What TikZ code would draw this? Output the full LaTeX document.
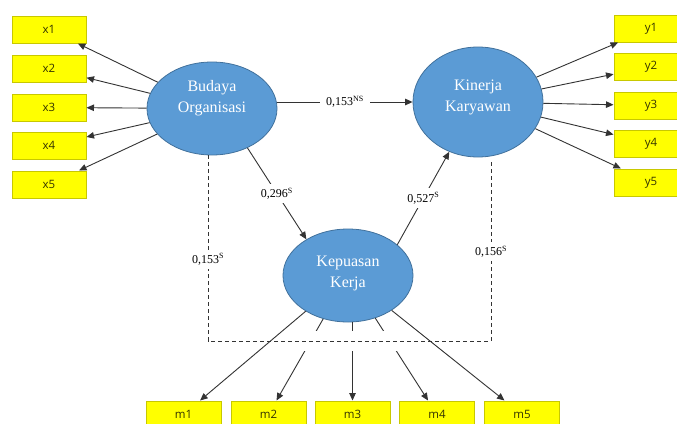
\documentclass[tikz,border=0pt]{standalone}
\usepackage{fontspec}
\setmainfont{Liberation Serif}
\newfontfamily\boxfont{Open Sans}
\newfontfamily\lvfont{Liberation Serif}
\usetikzlibrary{shapes.geometric,arrows.meta,calc}
\definecolor{lvfill}{HTML}{5B9BD5}
\definecolor{lvdraw}{HTML}{41719C}
\definecolor{indfill}{HTML}{FFFF00}
\definecolor{inddraw}{HTML}{C8C800}
\definecolor{edgec}{HTML}{333333}
\definecolor{boxtext}{HTML}{333300}
\tikzset{
  latent/.style={ellipse, fill=lvfill, draw=lvdraw, line width=0.8pt, inner sep=0pt},
  lvtext/.style={text=white, align=center, font=\lvfont\fontsize{16}{21}\selectfont},
  indbox/.style={rectangle, fill=indfill, draw=inddraw, line width=1pt,
    minimum width=74pt, minimum height=27pt, inner sep=0pt,
    text=boxtext, font=\boxfont\fontsize{11.5}{13}\selectfont},
  arr/.style={draw=edgec, line width=0.9pt, -{Triangle[length=7.5pt,width=6.5pt]}},
  coef/.style={fill=white, inner xsep=6pt, inner ysep=4pt, text=black,
    font=\lvfont\fontsize{12}{14}\selectfont},
  dline/.style={draw=edgec, line width=0.8pt, dash pattern=on 4pt off 3pt}
}
\begin{document}
\begin{tikzpicture}[x=1pt,y=-1pt]
\clip (0,0) rectangle (677,423);
\fill[white] (0,0) rectangle (677,423);
% latent variables
\node[latent, minimum width=130pt, minimum height=93pt,
  label={[lvtext, yshift=10pt]center:{Budaya\\Organisasi}}] (bo) at (212,108.5) {};
\node[latent, minimum width=130pt, minimum height=110pt,
  label={[lvtext, yshift=5pt]center:{Kinerja\\Karyawan}}] (ki) at (478,102) {};
\node[latent, minimum width=130pt, minimum height=93pt,
  label={[lvtext, yshift=2pt]center:{Kepuasan\\Kerja}}] (kp) at (348,275.5) {};
% indicators
\node[indbox] (x1) at (49,29.5) {x1};
\node[indbox] (x2) at (49,68.5) {x2};
\node[indbox] (x3) at (49,107.5) {x3};
\node[indbox] (x4) at (49,145.5) {x4};
\node[indbox] (x5) at (49,184.5) {x5};
\node[indbox] (y1) at (651,28.5) {y1};
\node[indbox] (y2) at (651,66.5) {y2};
\node[indbox] (y3) at (651,105.5) {y3};
\node[indbox] (y4) at (651,143.5) {y4};
\node[indbox] (y5) at (651,182.5) {y5};
\node[indbox, minimum width=75pt] (m1) at (183.5,414.5) {m1};
\node[indbox, minimum width=75pt] (m2) at (268.5,414.5) {m2};
\node[indbox, minimum width=75pt] (m3) at (352.5,414.5) {m3};
\node[indbox, minimum width=75pt] (m4) at (437,414.5) {m4};
\node[indbox, minimum width=75pt] (m5) at (522,414.5) {m5};
% loadings
\foreach \i in {1,...,5} {
  \draw[arr] (bo) -- (x\i);
  \draw[arr] (ki) -- (y\i);
}
\draw[arr] (kp) -- (m1);
\draw[arr] (kp) -- (m2);
\draw[arr] (kp.south -| m3.north) -- (m3.north);
\draw[arr] (kp) -- (m4);
\draw[arr] (kp) -- (m5);
% structural paths
\draw[arr] (bo.east |- ki.west) -- node[coef]{0,153\textsuperscript{NS}} (ki.west);
\draw[arr] (bo.-48) -- node[coef]{0,296\textsuperscript{S}} (kp.139);
\draw[arr] (kp.32) -- node[coef]{0,527\textsuperscript{S}} (ki.-120);
% indirect (dashed) path
\fill[white] (300,331) rectangle (406,351);
\coordinate (dl) at (208,341);
\coordinate (dr) at (491,341);
\draw[dline] ($(bo.south)+(-4,0)$) -- node[coef, pos=0.56]{0,153\textsuperscript{S}} (dl)
  -- (dr) -- node[coef, pos=0.5]{0,156\textsuperscript{S}} ($(ki.south)+(13,5)$);
\end{tikzpicture}
\end{document}
